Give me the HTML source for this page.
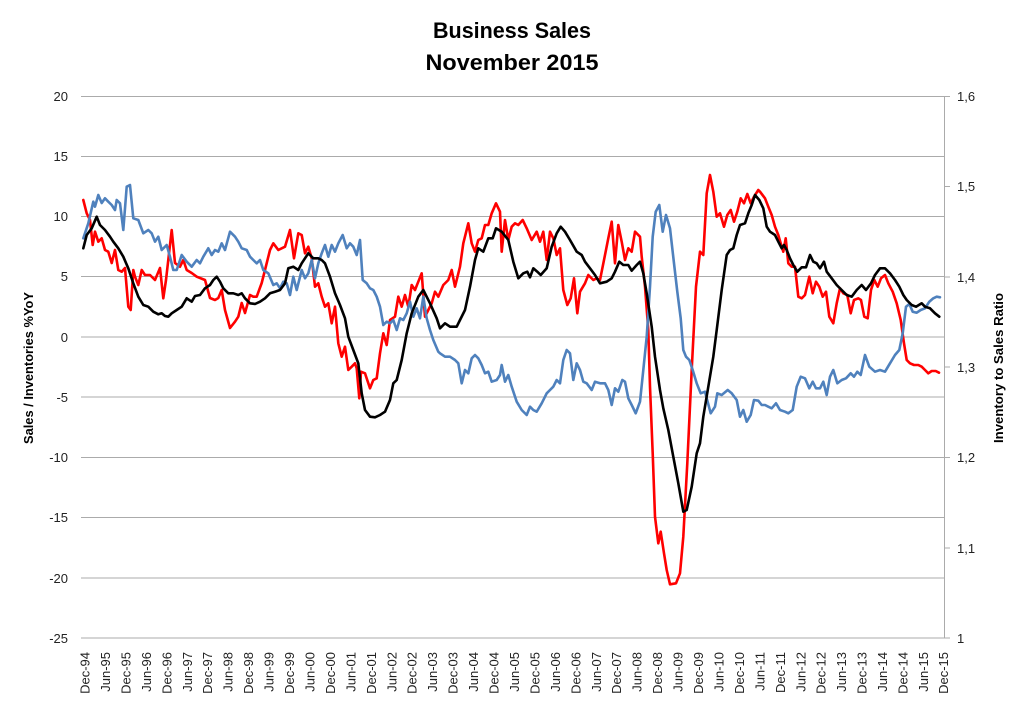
<!DOCTYPE html>
<html>
<head>
<meta charset="utf-8">
<style>
  html,body{margin:0;padding:0;background:#fff;}
  svg{display:block;}
  text{font-family:"Liberation Sans",sans-serif;}
</style>
</head>
<body>
<svg width="1024" height="711" viewBox="0 0 1024 711" xmlns="http://www.w3.org/2000/svg">
  <rect x="0" y="0" width="1024" height="711" fill="#fff"/>
  <!-- Title -->
  <text x="512" y="38" text-anchor="middle" font-size="22" font-weight="bold" fill="#000" textLength="158" lengthAdjust="spacingAndGlyphs">Business Sales</text>
  <text x="512" y="70" text-anchor="middle" font-size="22" font-weight="bold" fill="#000" textLength="173" lengthAdjust="spacingAndGlyphs">November 2015</text>

  <!-- Gridlines -->
  <g stroke="#ABABAB" stroke-width="1">
    <line x1="81" y1="96.5" x2="944" y2="96.5"/>
    <line x1="81" y1="156.5" x2="944" y2="156.5"/>
    <line x1="81" y1="216.5" x2="944" y2="216.5"/>
    <line x1="81" y1="276.5" x2="944" y2="276.5"/>
    <line x1="81" y1="337" x2="944" y2="337"/>
    <line x1="81" y1="397" x2="944" y2="397"/>
    <line x1="81" y1="457.5" x2="944" y2="457.5"/>
    <line x1="81" y1="517.5" x2="944" y2="517.5"/>
    <line x1="81" y1="578" x2="944" y2="578"/>
    <line x1="81" y1="638" x2="944" y2="638"/>
    <!-- right axis -->
    <line x1="944.5" y1="96" x2="944.5" y2="638"/>
    <line x1="944" y1="96.5" x2="950" y2="96.5"/>
    <line x1="944" y1="186.5" x2="950" y2="186.5"/>
    <line x1="944" y1="277" x2="950" y2="277"/>
    <line x1="944" y1="367" x2="950" y2="367"/>
    <line x1="944" y1="457.5" x2="950" y2="457.5"/>
    <line x1="944" y1="548" x2="950" y2="548"/>
    <line x1="944" y1="638" x2="950" y2="638"/>
  </g>

  <!-- Left axis labels -->
  <g font-size="13" fill="#222" text-anchor="end">
    <text x="68" y="101">20</text>
    <text x="68" y="161">15</text>
    <text x="68" y="221">10</text>
    <text x="68" y="281">5</text>
    <text x="68" y="342">0</text>
    <text x="68" y="402">-5</text>
    <text x="68" y="462">-10</text>
    <text x="68" y="522">-15</text>
    <text x="68" y="583">-20</text>
    <text x="68" y="643">-25</text>
  </g>
  <!-- Right axis labels -->
  <g font-size="13" fill="#222" text-anchor="start">
    <text x="957" y="101">1,6</text>
    <text x="957" y="191">1,5</text>
    <text x="957" y="282">1,4</text>
    <text x="957" y="372">1,3</text>
    <text x="957" y="462">1,2</text>
    <text x="957" y="553">1,1</text>
    <text x="957" y="643">1</text>
  </g>

  <!-- Axis titles -->
  <text transform="translate(33,368) rotate(-90)" text-anchor="middle" font-size="13" font-weight="bold" fill="#000" textLength="152" lengthAdjust="spacingAndGlyphs">Sales / Inventories %YoY</text>
  <text transform="translate(1003,368) rotate(-90)" text-anchor="middle" font-size="13" font-weight="bold" fill="#000" textLength="150" lengthAdjust="spacingAndGlyphs">Inventory to Sales Ratio</text>

  <!-- X axis labels -->
  <g font-size="13" fill="#222" text-anchor="end">
    <text transform="translate(89.5,652) rotate(-90)">Dec-94</text>
    <text transform="translate(110,652) rotate(-90)">Jun-95</text>
    <text transform="translate(130.4,652) rotate(-90)">Dec-95</text>
    <text transform="translate(150.9,652) rotate(-90)">Jun-96</text>
    <text transform="translate(171.3,652) rotate(-90)">Dec-96</text>
    <text transform="translate(191.8,652) rotate(-90)">Jun-97</text>
    <text transform="translate(212.2,652) rotate(-90)">Dec-97</text>
    <text transform="translate(232.7,652) rotate(-90)">Jun-98</text>
    <text transform="translate(253.1,652) rotate(-90)">Dec-98</text>
    <text transform="translate(273.6,652) rotate(-90)">Jun-99</text>
    <text transform="translate(294,652) rotate(-90)">Dec-99</text>
    <text transform="translate(314.5,652) rotate(-90)">Jun-00</text>
    <text transform="translate(334.9,652) rotate(-90)">Dec-00</text>
    <text transform="translate(355.4,652) rotate(-90)">Jun-01</text>
    <text transform="translate(375.8,652) rotate(-90)">Dec-01</text>
    <text transform="translate(396.3,652) rotate(-90)">Jun-02</text>
    <text transform="translate(416.7,652) rotate(-90)">Dec-02</text>
    <text transform="translate(437.2,652) rotate(-90)">Jun-03</text>
    <text transform="translate(457.6,652) rotate(-90)">Dec-03</text>
    <text transform="translate(478.1,652) rotate(-90)">Jun-04</text>
    <text transform="translate(498.5,652) rotate(-90)">Dec-04</text>
    <text transform="translate(519,652) rotate(-90)">Jun-05</text>
    <text transform="translate(539.4,652) rotate(-90)">Dec-05</text>
    <text transform="translate(559.9,652) rotate(-90)">Jun-06</text>
    <text transform="translate(580.3,652) rotate(-90)">Dec-06</text>
    <text transform="translate(600.8,652) rotate(-90)">Jun-07</text>
    <text transform="translate(621.2,652) rotate(-90)">Dec-07</text>
    <text transform="translate(641.7,652) rotate(-90)">Jun-08</text>
    <text transform="translate(662.1,652) rotate(-90)">Dec-08</text>
    <text transform="translate(682.6,652) rotate(-90)">Jun-09</text>
    <text transform="translate(703,652) rotate(-90)">Dec-09</text>
    <text transform="translate(723.5,652) rotate(-90)">Jun-10</text>
    <text transform="translate(743.9,652) rotate(-90)">Dec-10</text>
    <text transform="translate(764.4,652) rotate(-90)">Jun-11</text>
    <text transform="translate(784.8,652) rotate(-90)">Dec-11</text>
    <text transform="translate(805.3,652) rotate(-90)">Jun-12</text>
    <text transform="translate(825.7,652) rotate(-90)">Dec-12</text>
    <text transform="translate(846.2,652) rotate(-90)">Jun-13</text>
    <text transform="translate(866.6,652) rotate(-90)">Dec-13</text>
    <text transform="translate(887.1,652) rotate(-90)">Jun-14</text>
    <text transform="translate(907.5,652) rotate(-90)">Dec-14</text>
    <text transform="translate(928,652) rotate(-90)">Jun-15</text>
    <text transform="translate(948,652) rotate(-90)">Dec-15</text>
  </g>

  <!-- Series -->
  <g fill="none" stroke-width="2.6" stroke-linejoin="round" stroke-linecap="round">
    <polyline stroke="#FF0000" points="83.3,200 86.7,213.3 90,220 92.7,245 95,231.7 98.3,241.7 101.7,238.3 105,250 108.3,251.7 111.7,263 115,250 118.3,270 121.7,271.7 125,268 128.3,306.7 130.7,310 133.3,270 135,276.7 138.3,285 141.7,270 145,275 150,275 155,280 160,268 163.3,298.3 166,280 171.7,230 175,263 180,266.7 183.3,260 186.7,270 191.7,273 196.7,276.7 205,280 210,298 215,300 218.3,298 221.7,290 225,310 230,328 235,321.7 238.3,316.7 241.7,303 245,313 250,295 253.3,296.7 256.7,296.7 261.7,283 265,270 270,250 273.3,243.3 278.3,250 285,246.7 290,230 294,258.3 298.3,233.3 301.7,235 305,253.3 308.3,246.7 311.7,258.3 315,286.7 318.3,283.3 321.7,296.7 325,306.7 328.3,303.3 331.7,323.3 335,306.7 338.3,343.3 341.7,356.7 345,346.7 348.3,370 351.7,366.7 355,363.3 356.7,368.3 359.3,398.3 361,371.7 365,373.3 370,388.3 373.3,380 376.7,378.3 380,353.3 383.3,333.3 386.7,345 390,320 395,316.7 398.3,296.7 401.7,306.7 405,295 408.3,306.7 411.7,285 415,290 418.3,281.7 421.7,273.3 425,316.7 428.3,310 431.7,303.3 435,291.7 438.3,296.7 443.3,285 448.3,280 451.7,270 455,286.7 460,266.7 463.3,243.3 468.3,223.3 471.7,243.3 475,251.7 478.3,240 481.7,238.3 485,225 488.3,225 491.7,213.3 496,203.3 500,211.7 501.7,251.7 505,220 508.3,240 511.7,226.7 515,223.3 518.3,225 522.7,220 526.7,228.3 531.7,240 536.7,231.7 540,241.7 543.3,231.7 546.7,260 550,231.7 553.3,238.3 556.7,255 560,248.3 563.3,290 567.3,305 570.7,298.3 574,278.3 577.3,313.3 580,291.7 585,283.3 588.3,275 593.3,280 596.7,278.3 600,280 605,255 608.3,238.3 611.7,221.7 615,263.3 618.3,225 621.7,241.7 625,260 628.3,248.3 631.7,251.7 635,231.7 640,236.7 641.7,256.7 645,286.7 648.3,330 650,386.7 652.7,453.3 655,516.7 658.3,543.3 660.7,531.7 664,553.3 666.7,570 670,584.3 676,583.3 680,573.3 683.3,536.7 687.3,463.3 691.7,370 696,286.7 700,251.7 703.3,255 706.7,193.3 710,175 713.3,191.7 716.7,216.7 720,213.3 724,226.7 727.3,215 730.7,210 734,221.7 737.3,211.7 740.7,198.3 744,203.3 747.3,194 750.7,203.3 754,196.7 758.3,190 760,191.7 765,198.3 768.3,206.7 771.7,215 775,226.7 778.3,235 781.7,246.7 783.3,251.7 785.7,238.3 788.3,263.3 791.7,266.7 795,266.7 798.3,296.7 801.7,298.3 805,295 809.3,276.7 812.7,293.3 816,281.7 819.3,286.7 822.7,296.7 826,291.7 829.3,316.7 833.3,323.3 836.7,303.3 840,288.3 843.3,293.3 847.3,295 850.7,313.3 854,300 858.3,298.3 861,300 864.3,316.7 867.7,318.3 871,290 874.3,280 877.7,286.7 881,278.3 885,275 888.3,283.3 892.7,291.7 896.7,303.3 900.7,320 904,343.3 906.7,360 910,363.3 914,365 918.3,365 921.7,366.7 925,370 928.3,373.3 931.7,371 935.7,371 939,372.7"/>
    <polyline stroke="#4F81BD" points="83.3,238.3 88.3,223.3 93.3,201.7 95,206.7 98.3,195 101.7,203 105,198.3 108.3,201.7 111.7,205 115,210 116.7,200 120,203.3 123.3,230 126.7,186.7 130,185 133.3,218.3 138.3,220 143.3,233.3 148.3,230 151.7,233.3 155,241.7 158.3,236.7 161.7,250 166.7,245 170,256.7 173.3,270 176.7,270 181.7,255 186.7,261.7 191.7,266.7 196.7,260 200,263.3 203.3,256.7 208.3,248.3 211.7,255 215,250 218.3,251.7 221.7,243.3 225,250 230,231.7 235,236.7 238.3,241.7 241.7,248.3 246.7,250 250,256.7 253.3,260 256.7,263.3 260,260 263.3,270 268.3,273.3 273.3,285 276.7,283.3 280,288.3 283.3,281.7 286.7,283.3 290,295 293.3,276.7 296.7,290 301.7,270 305,278.3 308.3,273.3 311.7,260 315,278.3 318.3,263.3 321.7,253.3 325,245 328.3,256.7 331.7,245 335,251.7 338.3,243.3 342.7,235 346.7,248.3 350,243.3 353.3,246.7 356.7,255 360,240 362.7,280 366.7,283.3 370,288.3 373.3,290 376.7,296.7 380,306.7 383.3,325 386.7,321.7 390,323.3 393.3,320 396.7,330 400,318.3 403.3,320 406.7,313.3 410,301.7 413.3,316.7 416.7,308.3 420,318.3 423.3,296.7 426.7,318.3 430,330 433.3,340 438.3,351.7 440,353.3 445,356.7 450,356.7 455,360 458.3,363.3 461.7,383.3 465,370 468.3,373.3 471.7,358.3 475,355 478.3,358.3 481.7,365 485,373.3 488.3,371.7 491.7,381.7 496.7,380 500,375 501.7,365 505,381.7 508.3,375 511.7,386.7 516.7,401.7 521.7,410 526.7,415 530,406.7 533.3,410 536.7,411.7 541.7,403.3 546.7,393.3 550,390 553.3,386.7 556.7,380 560,383.3 563.3,360 566.7,350 570,353.3 573.3,380 576.7,363.3 580,370 583.3,381.7 586.7,383.3 591.7,390 595,381.7 600,383.3 605,383.3 608.3,390 611.7,405 615,388.3 618.3,391.7 622.3,380 625,381.7 628.3,398.3 631.7,405 635.7,413.3 640,401.7 643.3,370 646.7,336.7 650,286.7 652.7,236.7 655.7,211.7 659.3,205 662.7,231.7 666,215 670,228.3 674,263.3 677.3,291.7 680.7,318.3 683.3,350 686,356.7 689.3,360 692.7,370 696.7,383.3 700.7,393.3 705,391.7 710.7,413.3 715,406.7 717.3,393.3 721.7,395 727.7,390 731.7,393.3 736.7,400 740,416.7 743.3,410 746.7,421.7 750.7,415 754,400 758.3,400.7 761.7,405 765,405 768.3,406.7 771.7,408.3 776,403.3 780,410 785,411.7 788.3,413.3 792.7,410 796.7,386.7 800.7,376.7 805,378.3 809.3,388.3 812.7,381.7 816,388.3 820,388.3 823.3,381.7 826.7,395 830,376.7 833.3,370 837.3,383.3 841.7,380 846,378.3 850.7,373.3 854,376.7 857.3,371.7 860.7,375 865,355 869.3,366.7 875,371.7 880,370 885,371.7 890,363.3 895,355 899.3,350 902.7,333.3 906,306.7 909.3,304 912.7,311.7 916.7,312.7 920.7,310 925,308.3 929.3,301.7 933.3,298.3 936.7,296.7 940,297.3"/>
    <polyline stroke="#000000" points="83.3,248.3 86.7,235 91.7,228.3 96.7,216.7 100,225 105,230 110,236.7 113.3,241.7 118.3,248.3 123.3,256.7 128.3,268.3 133.3,283.3 138.3,296.7 143.3,305 148.3,306.7 153.3,311.7 158.3,314.3 161.7,313.3 165,316 168.3,316.7 171.7,313.3 176.7,310 181.7,306.7 186.7,298.3 191.7,301.7 195,296 200,295 205,288.3 210,285 213.3,280 216.7,276.7 220,281.7 223.3,288.3 228.3,293.3 233.3,293.3 238.3,295 241.7,293.3 245,298.3 250,303.3 255,304 260,301.7 265,298.3 270,293.3 275,291.7 280,290 285,283.3 288.3,268.3 293.3,266.7 298.3,270 301.7,263.3 308.3,253.3 313.3,258.3 318.3,258.3 321.7,260 325,263.3 330,276.7 335,293.3 340,305 345,318.3 348.3,336.7 353.3,350 358.3,363.3 361.7,393.3 365,410 370,416.7 375,417.3 380,415 385,411.7 390,400 393.3,383.3 396.7,380 401.7,360 406.7,333.3 411.7,313.3 418.3,296.7 423.3,290 430,303.3 436.7,318.3 440,328.3 445,323.3 450,326.7 456.7,326.7 460,320 465,310 470,286.7 475,260 478.3,248.3 483.3,251.7 488.3,238.3 492.7,238.3 496,228.3 501.7,231.7 508.3,240 513.3,261.7 518.3,278.3 523.3,273.3 527.3,271.7 530,277.3 533.3,268.3 537.3,271.7 540.7,275 546.7,268.3 551.7,246.7 556.7,233.3 560.7,226.7 565,231.7 570,240 576.7,251.7 581.7,255 585,261.7 590,268.3 595,275 600,283.3 606.7,281.7 611.7,278.3 615,271.7 619.3,261.7 623.3,265 628.3,265 631.7,270.7 636.7,265 640,261.7 643.3,273.3 646.7,293.3 651.7,326.7 655,356.7 660,390 663.3,408.3 668.3,430 673.3,456.7 678.3,483.3 683.3,511.7 686.7,510 691.7,486.7 696.7,453.3 700,443.3 703.3,416.7 708.3,386.7 713.3,356.7 716.7,330 721.7,290 726.7,255 730,250 733.3,248.3 736.7,235 740,225 745,223.3 748.3,213.3 751.7,205 755,195 759.3,200 763.3,208.3 766.7,226.7 770,231.7 775,235 778.3,241.7 781.7,248.3 784,245 786.7,250 790,258.3 793.3,265 797.3,271.7 801.7,267.3 806,267.3 810,255 813.3,261.7 816.7,263.3 820,268.3 824,261.7 826.7,271.7 831.7,278.3 836.7,285 841.7,290 846.7,295 851.7,296.7 856.7,290 861.7,285 866,290 871,283.3 875,275 880,268.3 885,268.3 890,273.3 895,280 899.3,286.7 903.3,295 906.7,300 911.7,305 916,306.7 921.7,303.3 925,306.7 930,308.3 935,313.3 939.3,316.7"/>
  </g>
</svg>
</body>
</html>
